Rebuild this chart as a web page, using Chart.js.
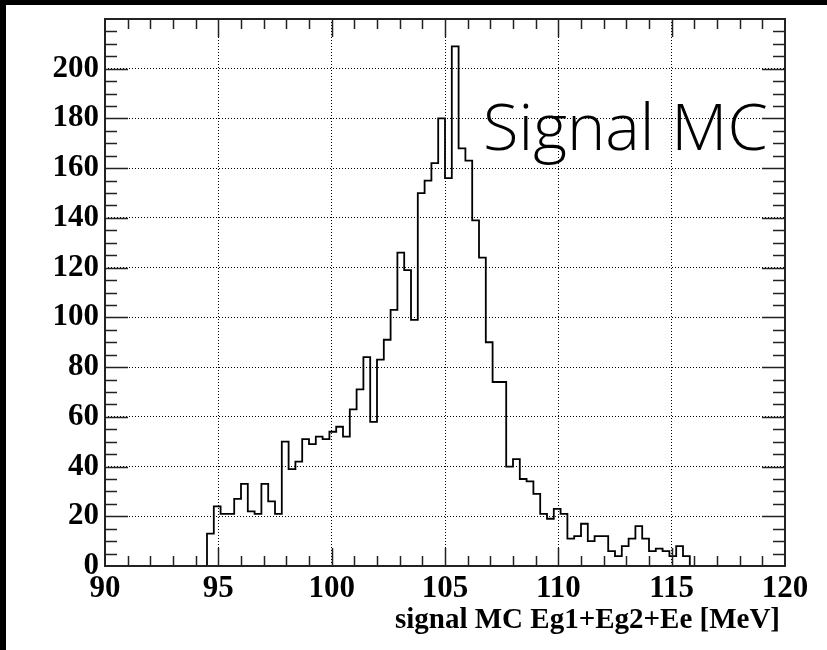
<!DOCTYPE html>
<html>
<head>
<meta charset="utf-8">
<script src="https://cdn.jsdelivr.net/npm/chart.js@4/dist/chart.umd.min.js"></script>
<style>
  html, body { margin: 0; padding: 0; background: #fff; }
  canvas { display: block; }
</style>
</head>
<body>
<canvas id="c" width="827" height="650"></canvas>
<script>
// --- Histogram data: 100 bins of 0.3 MeV between 90 and 120 MeV ---

const xMin = 90
const xMax = 120
const binWidth = 0.3

const counts = [
  0, 0, 0, 0, 0, 0, 0, 0, 0, 0,
  0, 0, 0, 0, 0, 13, 24, 21, 21, 27,
  33, 22, 21, 33, 26, 21, 50, 39, 42, 51,
  49, 52, 51, 54, 56, 52, 63, 71, 84, 58,
  83, 91, 103, 126, 119, 99, 150, 155, 162, 180,
  156, 209, 168, 163, 139, 124, 90, 74, 74, 40,
  43, 35, 34, 29, 21, 19, 23, 21, 11, 12,
  17, 10, 12, 12, 6, 4, 8, 11, 16, 11,
  6, 7, 6, 4, 8, 4, 0, 0, 0, 0,
  0, 0, 0, 0, 0, 0, 0, 0, 0, 0
]

const xTickLabels = [90, 95, 100, 105, 110, 115, 120]
const yTickLabels = [0, 20, 40, 60, 80, 100, 120, 140, 160, 180, 200]
const yMax = 220

const xTitle = 'signal MC Eg1+Eg2+Ee [MeV]'
const label = 'Signal MC'

// step points at the left edge of each bin, plus the closing edge
const points = counts.map((c, i) => ({ x: xMin + i * binWidth, y: c }))
points.push({ x: xMax, y: counts[counts.length - 1] })

const serif = '"Liberation Serif", "DejaVu Serif", serif'

// --- Frame, inward ticks, titles (ROOT-like look) ---

const rootStyle = {
  id: 'rootStyle',
  beforeDraw(chart) {
    const ctx = chart.ctx
    ctx.save()
    ctx.fillStyle = '#fff'
    ctx.fillRect(0, 0, chart.width, chart.height)
    ctx.fillStyle = '#000'
    ctx.fillRect(0, 0, chart.width, 5)
    ctx.fillRect(0, 0, 6, chart.height)
    ctx.restore()
  },
  afterDraw(chart) {
    const ctx = chart.ctx
    const a = chart.chartArea
    const xs = chart.scales.x
    const ys = chart.scales.y
    ctx.save()
    ctx.strokeStyle = '#222'
    ctx.lineWidth = 1.5

    ctx.beginPath()
    for (let v = xMin + 1; v < xMax; v++) {
      const px = Math.round(xs.getPixelForValue(v)) + 0.5
      const len = v % 5 === 0 ? 18 : 10
      ctx.moveTo(px, a.bottom); ctx.lineTo(px, a.bottom - len)
      ctx.moveTo(px, a.top); ctx.lineTo(px, a.top + len)
    }
    for (let v = 5; v < yMax; v += 5) {
      const py = Math.round(ys.getPixelForValue(v)) + 0.5
      const len = v % 20 === 0 ? 23 : 12
      ctx.moveTo(a.left, py); ctx.lineTo(a.left + len, py)
      ctx.moveTo(a.right, py); ctx.lineTo(a.right - len, py)
    }
    ctx.stroke()

    ctx.lineWidth = 2
    ctx.strokeRect(a.left, a.top, a.right - a.left, a.bottom - a.top)

    ctx.fillStyle = '#000'
    ctx.font = 'bold 29px ' + serif
    ctx.textAlign = 'right'
    ctx.textBaseline = 'alphabetic'
    ctx.fillText(xTitle, 780, 628)

    ctx.font = '300 65px "Open Sans", sans-serif'
    ctx.textAlign = 'left'
    ctx.fillText(label, 483, 150)
    ctx.restore()
  }
}

new Chart(document.getElementById('c'), {
  type: 'line',
  data: {
    datasets: [{
      data: points,
      stepped: 'before',
      borderColor: '#000',
      borderWidth: 1.8,
      pointRadius: 0,
      fill: false
    }]
  },
  options: {
    responsive: false,
    animation: false,
    devicePixelRatio: 1,
    layout: { padding: { left: 0, top: 19, right: 42, bottom: 0 } },
    plugins: { legend: { display: false }, tooltip: { enabled: false } },
    scales: {
      x: {
        type: 'linear',
        min: xMin,
        max: xMax,
        afterBuildTicks(scale) {
          scale.ticks = xTickLabels.map(v => ({ value: v }))
        },
        afterFit(scale) {
          scale.height = 84
          scale.paddingLeft = 0
          scale.paddingRight = 0
        },
        grid: {
          color: ctx => (ctx.tick && (ctx.tick.value === xMin || ctx.tick.value === xMax)) ? 'rgba(0,0,0,0)' : '#000',
          lineWidth: 1,
          drawTicks: false
        },
        border: { display: false, dash: [1, 2] },
        ticks: {
          color: '#000',
          padding: 4,
          maxRotation: 0,
          autoSkip: false,
          font: { family: serif, weight: 'bold', size: 31 }
        }
      },
      y: {
        min: 0,
        max: yMax,
        afterBuildTicks(scale) {
          scale.ticks = yTickLabels.map(v => ({ value: v }))
        },
        afterFit(scale) {
          scale.width = 105
          scale.paddingTop = 0
          scale.paddingBottom = 0
        },
        grid: {
          color: ctx => (ctx.tick && ctx.tick.value === 0) ? 'rgba(0,0,0,0)' : '#000',
          lineWidth: 1,
          drawTicks: false
        },
        border: { display: false, dash: [1, 2] },
        ticks: {
          color: '#000',
          padding: 6,
          autoSkip: false,
          font: { family: serif, weight: 'bold', size: 31 }
        }
      }
    }
  },
  plugins: [rootStyle]
})
</script>
</body>
</html>
